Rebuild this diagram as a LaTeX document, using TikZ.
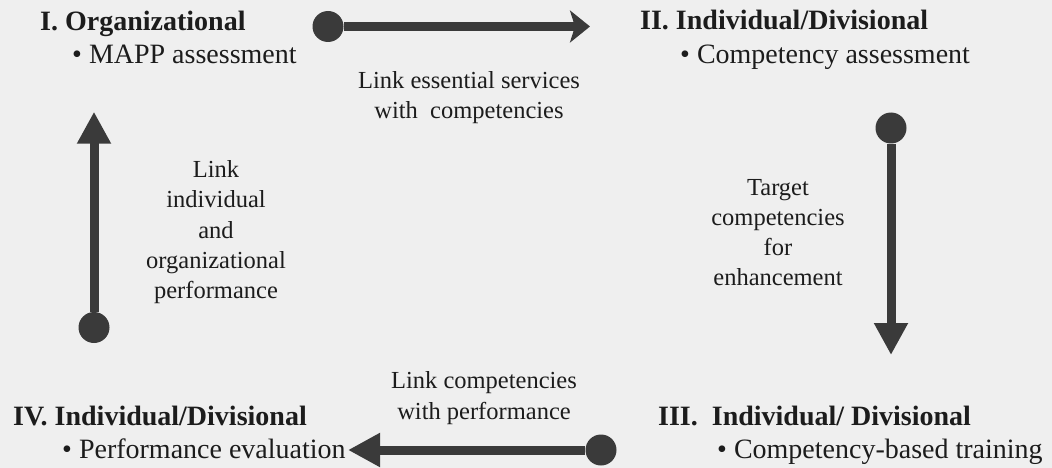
\documentclass[tikz,border=0pt]{standalone}
\usepackage{fontspec}
\setmainfont{Liberation Serif}
\usetikzlibrary{arrows.meta}
\definecolor{paper}{HTML}{EFEFEF}
\definecolor{ink}{HTML}{3A3A3A}
\definecolor{print}{HTML}{1C1C1C}

\begin{document}
\begin{tikzpicture}[x = 1pt, y = -1pt]
	\tikzstyle{headStyle} = [anchor = base west, inner sep = 0pt, text = print, font = \fontsize{28}{34}\selectfont\bfseries]
	\tikzstyle{itemStyle} = [anchor = base west, inner sep = 0pt, text = print, font = \fontsize{28}{34}\selectfont]
	\tikzstyle{noteStyle} = [anchor = north, inner sep = 0pt, align = center, text = print, font = \fontsize{24.5}{30.3}\selectfont]
	\tikzstyle{dotStyle} = [shape = circle, minimum size = 31pt, inner sep = 0pt, fill = ink]
	\tikzstyle{flowStyle} = [draw = ink, line width = 9pt, -{Triangle[length = 32pt, width = 32pt]}]
	\fill[paper] (0, 0) rectangle (1052, 468);
	% the four stages
	\node[headStyle] (orgHead) at (40, 30.7) {I. Organizational};
	\node[itemStyle] (orgItem) at (72, 64) {• MAPP assessment};
	\node[headStyle] (divHead) at (640, 30) {II. Individual/Divisional};
	\node[itemStyle] (divItem) at (680, 63.3) {• Competency assessment};
	\node[headStyle] (trainHead) at (658, 425.3) {III.\ \ Individual/ Divisional};
	\node[itemStyle] (trainItem) at (717, 458.7) {• Competency-based training};
	\node[headStyle] (evalHead) at (13, 425.3) {IV. Individual/Divisional};
	\node[itemStyle] (evalItem) at (62, 458.7) {• Performance evaluation};
	% links between stages
	\coordinate (topTip) at (590, 26.5);
	\coordinate (rightTip) at (891, 355);
	\coordinate (bottomTip) at (348, 450);
	\coordinate (leftTip) at (94, 111.7);
	\node[dotStyle] (topDot) at (328, 26.5) {};
	\node[dotStyle] (rightDot) at (891, 128) {};
	\node[dotStyle] (bottomDot) at (601, 450) {};
	\node[dotStyle] (leftDot) at (94, 327.5) {};
	\draw[flowStyle, -{Stealth[length = 20pt, width = 32pt, inset = 5pt]}] (topDot) -- (topTip);
	\draw[flowStyle] (rightDot) -- (rightTip);
	\draw[flowStyle] (bottomDot) -- (bottomTip);
	\draw[flowStyle] (leftDot) -- (leftTip);
	\node[noteStyle] (topNote) at (469, 71) {Link essential services\\with\ \ competencies};
	\node[noteStyle] (rightNote) at (778, 178.8) {Target\\competencies\\for\\enhancement};
	\node[noteStyle] (bottomNote) at (484, 371.5) {Link competencies\\with performance};
	\node[noteStyle] (leftNote) at (216, 160.3) {Link\\individual\\and\\organizational\\performance};
\end{tikzpicture}
\end{document}
